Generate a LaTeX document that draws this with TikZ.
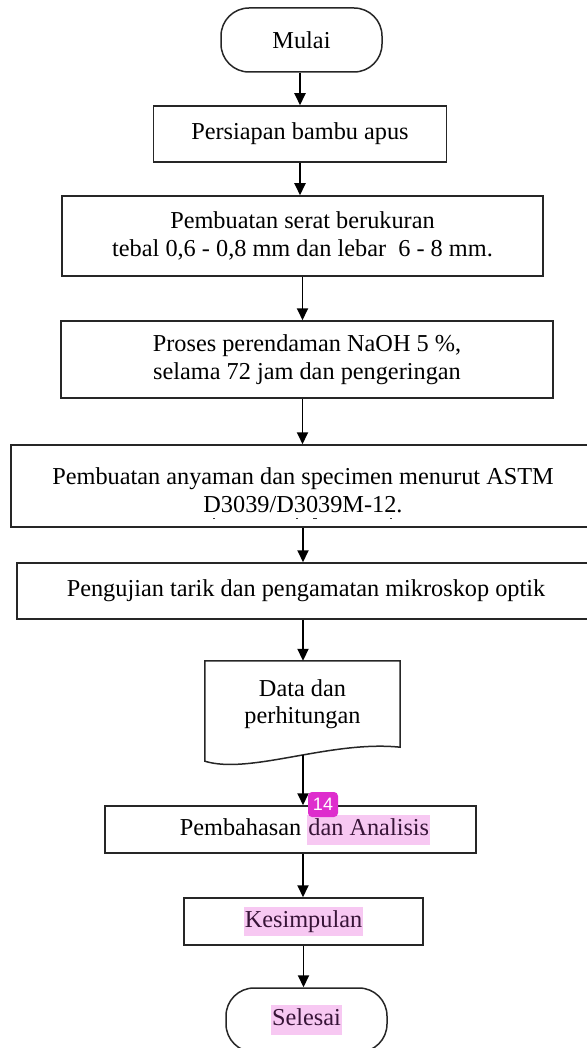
\documentclass[tikz,border=0pt]{standalone}
\usepackage{fontspec}
\setmainfont{Liberation Serif}
\newfontfamily\lencanafont{Liberation Sans}
\usetikzlibrary{arrows.meta}
\definecolor{sorot}{RGB}{247,200,242}
\definecolor{lencana}{RGB}{222,45,205}
\definecolor{teksungu}{RGB}{55,20,55}
\setlength{\fboxsep}{1pt}
\newcommand{\sorot}[1]{\colorbox{sorot}{\strut\textcolor{teksungu}{#1}}}

\begin{document}
\begin{tikzpicture}[x=1pt,y=-1pt,
    huruf/.style={font=\fontsize{24.3}{27.5}\selectfont},
    kotak/.style={draw=black!85,line width=1.5pt,rectangle,inner sep=0pt,align=center,huruf},
    ujung/.style={kotak,rounded corners=28pt,minimum width=161,minimum height=64},
    teks/.style={inner sep=0pt,align=center,huruf},
    panah/.style={-{Triangle[length=12pt,width=11pt]},line width=1.9pt}]
\useasboundingbox (0,0) rectangle (586,1048);

% langkah-langkah
\node[ujung] (mulai) at (301.5,40) {Mulai};
\node[kotak,minimum width=293,minimum height=56] (persiapan) at (300,134) {Persiapan bambu apus};
\node[kotak,minimum width=481,minimum height=80] (serat) at (302.5,236) {Pembuatan serat berukuran\\ tebal 0,6 - 0,8 mm dan lebar\ \ 6 - 8 mm.};
\node[kotak,minimum width=492,minimum height=77] (proses) at (307,359.5) {Proses perendaman NaOH 5 \%,\\ selama 72 jam dan pengeringan};
\node[kotak,minimum width=584,minimum height=82] (astm) at (303,486) {};
\node[teks] (astmteks) at (303,490) {Pembuatan anyaman dan specimen menurut ASTM\\ D3039/D3039M-12.};
\node[kotak,minimum width=578,minimum height=56] (uji) at (306,591) {Pengujian tarik dan pengamatan mikroskop optik};
\node[teks,minimum width=195,minimum height=86] (data) at (302.5,704) {Data dan\\ perhitungan};
\coordinate (databawah) at (303,755);
\node[kotak,minimum width=371,minimum height=47] (bahas) at (290.5,829.5) {};
\node[teks] (bahasteks) at (305,830) {Pembahasan \sorot{dan Analisis}};
\node[kotak,minimum width=239,minimum height=47] (simpul) at (303.5,921.5) {\sorot{Kesimpulan}};
\node[ujung] (selesai) at (306.5,1020) {\sorot{Selesai}};

% sisa huruf yang terpotong
\foreach \x/\w in {213/2,296/2,313/4,390/2}
  \fill[black!80] (\x,517.5) rectangle ++(\w,1.5);

% bentuk dokumen
\draw[draw=black!85,line width=1.5pt] (data.north west) -- (data.north east) -- (data.south east)
  .. controls (330,740) and (250,775) .. ([yshift=-14pt]data.south west) -- cycle;

% panah
\draw[panah] (mulai.south -| persiapan.north) -- (persiapan.north);
\draw[panah] (persiapan.south) -- (persiapan.south |- serat.north);
\draw[panah] (serat.south) -- (serat.south |- proses.north);
\draw[panah] (proses.south -| serat.south) -- (serat.south |- astm.north);
\draw[panah] (astm.south) -- (astm.south |- uji.north);
\draw[panah] (uji.south -| astm.south) -- (astm.south |- data.north);
\draw[panah] (databawah) -- (databawah |- bahas.north);
\draw[panah] (bahas.south -| databawah) -- (databawah |- simpul.north);
\draw[panah] (simpul.south) -- (simpul.south |- selesai.north);

% penanda komentar
\node[fill=lencana,rounded corners=4pt,minimum width=30,minimum height=25,inner sep=0pt,
  text=white,font=\lencanafont\fontsize{18}{18}\selectfont] (nomor) at (323,804.5) {14};
\end{tikzpicture}
\end{document}
